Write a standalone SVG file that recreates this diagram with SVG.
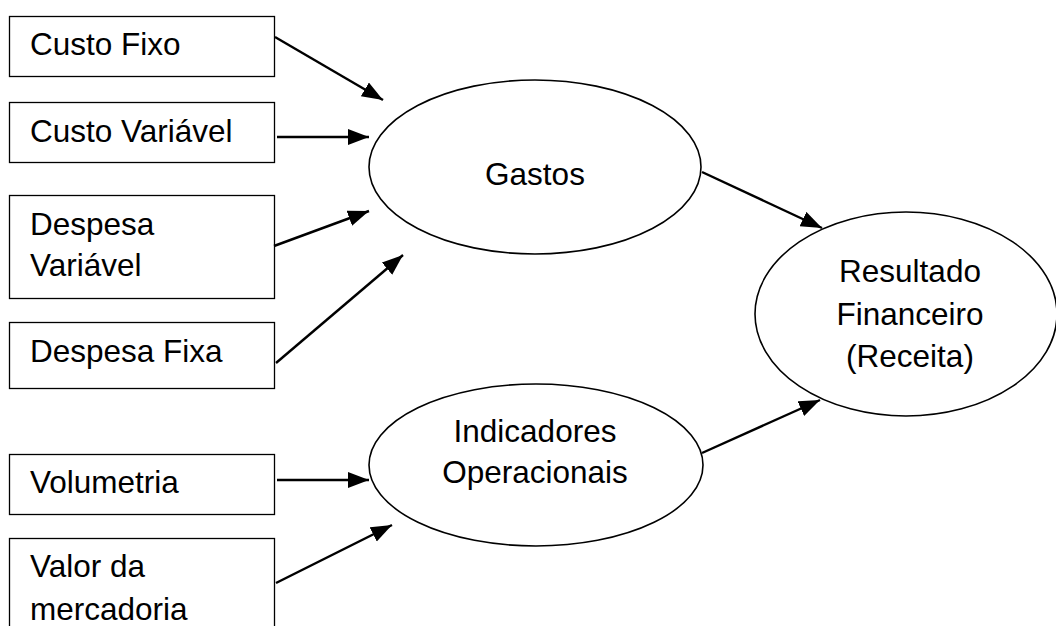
<svg xmlns="http://www.w3.org/2000/svg" width="1056" height="626" viewBox="0 0 1056 626">
<style>
.box{fill:#fff;stroke:#000;stroke-width:1.3}
.ell{fill:#fff;stroke:#000;stroke-width:1.6}
.t{font-family:"Liberation Sans",Arial,sans-serif;font-size:31.5px;fill:#000}
.c{text-anchor:middle}
.cn line{stroke:#000;stroke-width:2.4;marker-end:url(#ah)}
</style>
<defs>
<marker id="ah" markerUnits="userSpaceOnUse" markerWidth="24" markerHeight="18" refX="21" refY="8" orient="auto">
<path d="M0,0 L21,8 L0,16 z" fill="#000"/>
</marker>
</defs>
<rect width="1056" height="626" fill="#fff"/>
<g id="custo-fixo"><rect class="box" x="9.5" y="16.5" width="265" height="60"/><text class="t" x="30" y="55">Custo Fixo</text></g>
<g id="custo-variavel"><rect class="box" x="9.5" y="102.5" width="265" height="60"/><text class="t" x="30" y="142">Custo Variável</text></g>
<g id="despesa-variavel"><rect class="box" x="9.5" y="195.5" width="265" height="103"/><text class="t" x="30" y="235">Despesa</text><text class="t" x="30" y="276">Variável</text></g>
<g id="despesa-fixa"><rect class="box" x="9.5" y="322.5" width="265" height="66"/><text class="t" x="30" y="362">Despesa Fixa</text></g>
<g id="volumetria"><rect class="box" x="9.5" y="454.5" width="265" height="60"/><text class="t" x="30" y="493">Volumetria</text></g>
<g id="valor-mercadoria"><rect class="box" x="9.5" y="538.5" width="265" height="110"/><text class="t" x="30" y="577">Valor da</text><text class="t" x="30" y="620">mercadoria</text></g>
<g id="gastos"><ellipse class="ell" cx="535" cy="167" rx="166" ry="87"/><text class="t c" x="535" y="185">Gastos</text></g>
<g id="indicadores"><ellipse class="ell" cx="536" cy="465" rx="167" ry="81"/><text class="t c" x="535" y="442">Indicadores</text><text class="t c" x="535" y="483">Operacionais</text></g>
<g id="resultado"><ellipse class="ell" cx="906" cy="314" rx="151" ry="102"/><text class="t c" x="910" y="282">Resultado</text><text class="t c" x="910" y="325">Financeiro</text><text class="t c" x="910" y="367">(Receita)</text></g>
<g id="connectors" class="cn">
<line x1="275" y1="37" x2="383" y2="100"/>
<line x1="277" y1="137" x2="369" y2="137"/>
<line x1="274" y1="246" x2="369" y2="211"/>
<line x1="276" y1="363" x2="403" y2="255"/>
<line x1="277" y1="480" x2="369" y2="480"/>
<line x1="276" y1="583" x2="392" y2="525"/>
<line x1="702" y1="172" x2="822" y2="228"/>
<line x1="702" y1="453" x2="820" y2="400"/>
</g>
</svg>
